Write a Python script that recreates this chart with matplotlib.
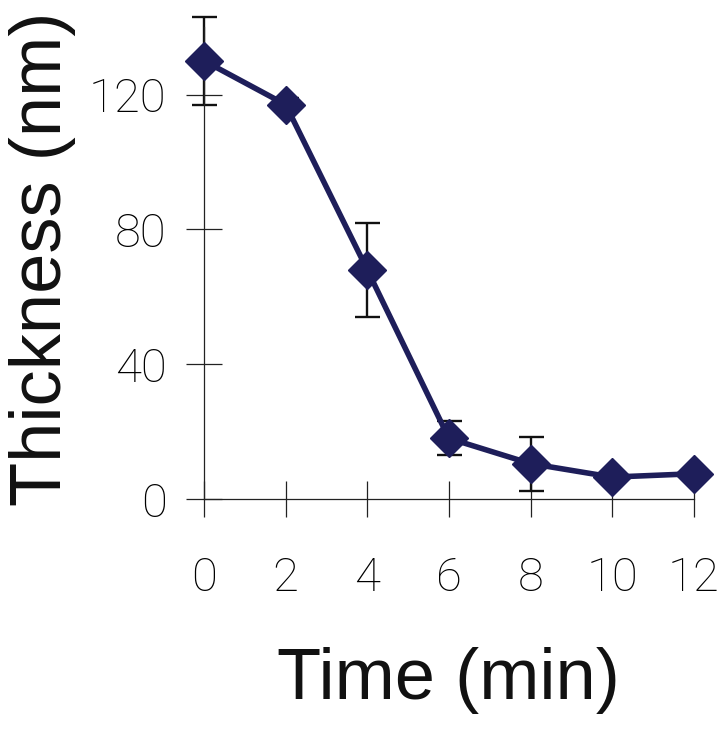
import matplotlib
matplotlib.use("Agg")
import matplotlib.pyplot as plt

# Film thickness over etch time, mean with error
time_min = [0, 2, 4, 6, 8, 10, 12]
thickness_nm = [130, 117, 68, 18, 10.5, 6.5, 7.5]
thickness_err = [13, 2, 14, 5, 8, 0, 0]

x_ticks = [0, 2, 4, 6, 8, 10, 12]
y_ticks = [0, 40, 80, 120]

navy = "#1e1e5a"

fig = plt.figure(figsize=(7.25, 7.32), dpi=100)
ax = fig.add_axes([0.2814, 0.3183, 0.957 - 0.2814, 0.963 - 0.3183])

# error bars first so the markers sit on top
ax.errorbar(time_min, thickness_nm, yerr=thickness_err, fmt="none",
            ecolor="#111111", elinewidth=1.7, capsize=9, capthick=1.7,
            clip_on=False, zorder=2)
ax.plot(time_min, thickness_nm, color=navy, lw=4, marker="D",
        markersize=19, markerfacecolor=navy, markeredgecolor=navy,
        clip_on=False, zorder=3)

ax.set_xlim(0, 12)
ax.set_ylim(0, 140)
ax.set_xticks(x_ticks)
ax.set_yticks(y_ticks)

for side in ["top", "right"]:
    ax.spines[side].set_visible(False)
for side in ["left", "bottom"]:
    ax.spines[side].set_color("#222222")
    ax.spines[side].set_linewidth(0.9)

tick_font = {"family": ["Roboto", "DejaVu Sans"], "weight": "light", "size": 34}
ax.tick_params(axis="both", direction="inout", length=26, width=0.9,
               color="#222222")
ax.tick_params(axis="x", pad=28)
ax.tick_params(axis="y", pad=14)
for lbl in ax.get_xticklabels() + ax.get_yticklabels():
    lbl.set_fontfamily(tick_font["family"])
    lbl.set_fontweight(tick_font["weight"])
    lbl.set_fontsize(tick_font["size"])
    lbl.set_color("#000000")

label_font = dict(family=["Liberation Sans", "DejaVu Sans"], size=52, color="#111111")
fig.text(0.619, 0.045, "Time (min)", ha="center", va="baseline", **label_font)
fig.text(0.058, 0.647, "Thickness (nm)", ha="center", va="center",
         rotation=90, **label_font)

fig.savefig("out.png", dpi=100)
